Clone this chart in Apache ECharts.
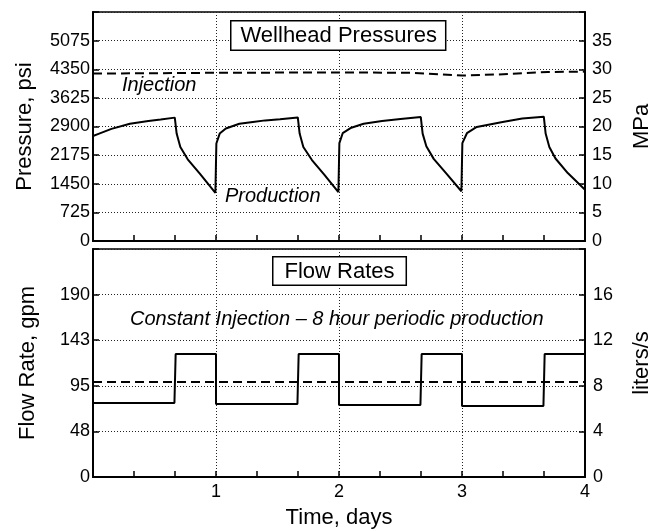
<!DOCTYPE html>
<html>
<head>
<meta charset="utf-8">
<script src="https://cdn.jsdelivr.net/npm/echarts@6/dist/echarts.min.js"></script>
<style>
html,body{margin:0;padding:0;background:#fff;}
#chart{width:661px;height:531px;}
</style>
</head>
<body>
<div id="chart"></div>
<script>
// ---- Data ----
// Production wellhead pressure, psi
const productionPressureDays = [0, 0.05, 0.15, 0.3, 0.45, 0.55, 0.665, 0.68, 0.71, 0.77, 0.87, 0.995,
  1.003, 1.03, 1.08, 1.19, 1.3, 1.4, 1.52, 1.665, 1.68, 1.71, 1.78, 1.88, 1.995,
  2.003, 2.03, 2.1, 2.2, 2.35, 2.5, 2.665, 2.68, 2.71, 2.77, 2.87, 2.995,
  3.003, 3.04, 3.12, 3.33, 3.49, 3.665, 3.68, 3.71, 3.76, 3.86, 4.0];
const productionPressurePsi = [2660, 2720, 2840, 2970, 3040, 3075, 3125, 2720, 2380, 2070, 1700, 1220,
  2470, 2720, 2850, 2970, 3015, 3055, 3085, 3130, 2720, 2380, 2050, 1680, 1240,
  2480, 2730, 2870, 2970, 3040, 3090, 3140, 2720, 2400, 2080, 1720, 1260,
  2480, 2730, 2890, 3014, 3100, 3150, 2720, 2380, 2090, 1720, 1300];
// Injection wellhead pressure, psi
const injectionPressureDays = [0, 0.5, 1, 1.5, 2, 2.6, 3, 3.3, 3.7, 4];
const injectionPressurePsi = [4240, 4250, 4260, 4265, 4270, 4260, 4190, 4220, 4280, 4290];
// Production flow rate, gpm (8 hour periodic production)
const productionFlowDays = [0, 0.662, 0.672, 1.0, 1.0, 1.662, 1.672, 2.0, 2.0, 2.662, 2.672, 3.0, 3.0, 3.662, 3.672, 4.0];
const productionFlowGpm = [77, 77, 128, 128, 76, 76, 128, 128, 75, 75, 128, 128, 74, 74, 128, 128];
// Injection flow rate, gpm (constant)
const injectionFlowDays = [0, 4];
const injectionFlowGpm = [99, 99];
// Axis tick values
const pressureTicksPsi = [0, 725, 1450, 2175, 2900, 3625, 4350, 5075];
const pressureTicksMPa = [0, 5, 10, 15, 20, 25, 30, 35];
const flowTicksGpm = [0, 48, 95, 143, 190];
const flowTicksLps = [0, 4, 8, 12, 16];
const dayTicks = [1, 2, 3, 4];

const zip = (xs, ys) => xs.map((x, i) => [x, ys[i]]);

const FONT = '"Liberation Sans", Arial, Helvetica, sans-serif';
const BLACK = '#000';

const chart = echarts.init(document.getElementById('chart'), null, {renderer: 'canvas'});

function xAxisFor(gridIndex, showLabels) {
  return {
    type: 'value', gridIndex: gridIndex, min: 0, max: 4, interval: 1,
    axisLine: {show: true, lineStyle: {color: BLACK, width: 2}},
    axisTick: {show: true, inside: true, length: 6, lineStyle: {color: BLACK, width: 1.5}},
    minorTick: {show: true, splitNumber: 3, length: 6, lineStyle: {color: BLACK, width: 1.5}},
    axisLabel: {
      show: showLabels, margin: 6, color: BLACK, fontSize: 18, fontFamily: FONT,
      formatter: v => (dayTicks.indexOf(v) >= 0 ? String(v) : '')
    },
    splitLine: {show: true, lineStyle: {color: '#222', width: 1, type: [1, 2]}},
    name: showLabels ? 'Time, days' : '', nameLocation: 'middle', nameGap: 30,
    nameTextStyle: {color: BLACK, fontSize: 22, fontFamily: FONT}
  };
}

function yAxisFor(gridIndex, pos, min, max, interval, ticks, name, nameGap, margin, split) {
  return {
    type: 'value', gridIndex: gridIndex, position: pos, min: min, max: max, interval: interval,
    axisLine: {show: true, lineStyle: {color: BLACK, width: 2}},
    axisTick: {show: true, inside: true, length: 6, lineStyle: {color: BLACK, width: 1.5}},
    axisLabel: {
      margin: margin, color: BLACK, fontSize: 18, fontFamily: FONT,
      formatter: v => {
        const r = Math.round(v);
        return (v < max - 1e-6 && ticks.indexOf(r) >= 0) ? String(r) : '';
      }
    },
    splitLine: {show: split, lineStyle: {color: '#222', width: 1, type: [1, 2]}},
    name: name, nameLocation: 'middle', nameGap: nameGap, nameRotate: 90,
    nameTextStyle: {color: BLACK, fontSize: 22, fontFamily: FONT}
  };
}

const option = {
  backgroundColor: '#fff',
  animation: false,
  grid: [
    {left: 93, right: 75, top: 12, height: 229, show: true, borderColor: BLACK, borderWidth: 1.5, backgroundColor: 'transparent'},
    {left: 93, right: 75, top: 249, height: 228, show: true, borderColor: BLACK, borderWidth: 1.5, backgroundColor: 'transparent'}
  ],
  xAxis: [xAxisFor(0, false), xAxisFor(1, true)],
  yAxis: [
    yAxisFor(0, 'left', 0, 5800, 725, pressureTicksPsi, 'Pressure, psi', 57, 3, true),
    yAxisFor(0, 'right', 0, 40, 5, pressureTicksMPa, 'MPa', 46, 7, false),
    yAxisFor(1, 'left', 0, 237.5, 47.5, flowTicksGpm, 'Flow Rate, gpm', 54, 3, true),
    yAxisFor(1, 'right', 0, 20, 4, flowTicksLps, 'liters/s', 46, 8, false)
  ],
  series: [
    {type: 'line', xAxisIndex: 0, yAxisIndex: 0, data: zip(injectionPressureDays, injectionPressurePsi),
      showSymbol: false, smooth: false, lineStyle: {color: BLACK, width: 2, type: [9, 5]}, z: 3},
    {type: 'line', xAxisIndex: 0, yAxisIndex: 0, data: zip(productionPressureDays, productionPressurePsi),
      showSymbol: false, smooth: false, lineStyle: {color: BLACK, width: 2}, z: 3},
    {type: 'line', xAxisIndex: 1, yAxisIndex: 2, data: zip(injectionFlowDays, injectionFlowGpm),
      showSymbol: false, lineStyle: {color: BLACK, width: 2, type: [9, 5]}, z: 3},
    {type: 'line', xAxisIndex: 1, yAxisIndex: 2, data: zip(productionFlowDays, productionFlowGpm),
      showSymbol: false, lineStyle: {color: BLACK, width: 2}, z: 3}
  ],
  graphic: [
    {type: 'text', left: 230, top: 20, z: 10,
      style: {text: 'Wellhead Pressures', font: '22px ' + FONT, fill: BLACK,
        backgroundColor: '#fff', borderColor: BLACK, borderWidth: 1.5, padding: [3, 8, 3, 9]}},
    {type: 'text', left: 272, top: 256, z: 10,
      style: {text: 'Flow Rates', font: '22px ' + FONT, fill: BLACK,
        backgroundColor: '#fff', borderColor: BLACK, borderWidth: 1.5, padding: [3, 11, 2, 11]}},
    {type: 'text', left: 122, top: 75, z: 10,
      style: {text: 'Injection', font: 'italic 20px ' + FONT, fill: BLACK}},
    {type: 'text', left: 225, top: 186, z: 10,
      style: {text: 'Production', font: 'italic 20px ' + FONT, fill: BLACK}},
    {type: 'text', left: 130, top: 309, z: 10,
      style: {text: 'Constant Injection \u2013 8 hour periodic production', font: 'italic 20px ' + FONT, fill: BLACK}}
  ]
};
chart.setOption(option);
</script>
</body>
</html>
